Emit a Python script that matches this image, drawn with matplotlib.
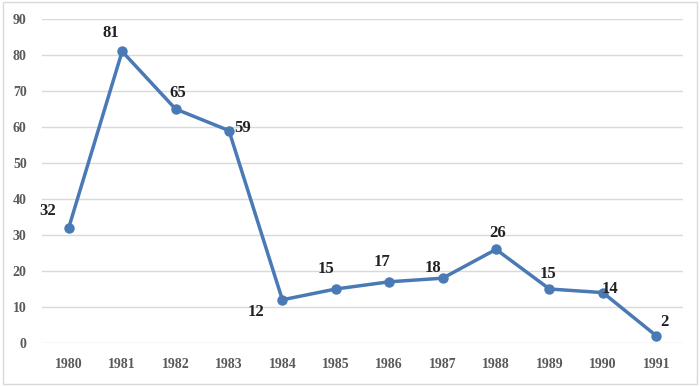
import matplotlib.pyplot as plt
from matplotlib.patches import Rectangle

years = ["1980", "1981", "1982", "1983", "1984", "1985",
         "1986", "1987", "1988", "1989", "1990", "1991"]
values = [32, 81, 65, 59, 12, 15, 17, 18, 26, 15, 14, 2]

# label offsets in pixels (dx, dy) relative to each point
label_offsets = [(-21, 17), (-11, 18), (2, 16), (14, 3), (-26, -12), (-10, 20),
                 (-7, 20), (-10, 10), (2, 16), (-1, 15), (7, 4), (8, 14)]

plt.rcParams['font.family'] = ['Liberation Serif', 'DejaVu Serif']

fig = plt.figure(figsize=(7, 3.86), dpi=100)
ax = fig.add_axes([0.06, 0.1114, 0.9157, 0.8394])

line_color = '#4a7ab5'
x = range(len(years))
ax.plot(x, values, color=line_color, lw=2.5, marker='o', markersize=6.5, zorder=3)

for i, (v, (dx, dy)) in enumerate(zip(values, label_offsets)):
    ax.annotate(str(v), (i, v), xytext=(dx, dy), textcoords='offset pixels',
                ha='center', va='center', fontsize=12, fontweight='bold',
                color='#222222')

ax.set_xlim(-0.5, len(years) - 0.5)
ax.set_ylim(0, 90)
ax.set_yticks(range(0, 91, 10))
ax.set_xticks(list(x))
ax.set_xticklabels(years)
ax.grid(axis='y', color='#d9d9d9', lw=1)
ax.set_axisbelow(True)
for s in ax.spines.values():
    s.set_visible(False)
ax.tick_params(length=0, labelsize=10, labelcolor='#595959')
ax.tick_params(axis='x', pad=11)
ax.tick_params(axis='y', pad=11)
for lab in ax.get_xticklabels() + ax.get_yticklabels():
    lab.set_fontweight('bold')

fig.patches.append(Rectangle((0.004, 0.006), 0.992, 0.988, transform=fig.transFigure,
                             fill=False, edgecolor='#d9d9d9', lw=1))

fig.savefig('out.png', dpi=100)
